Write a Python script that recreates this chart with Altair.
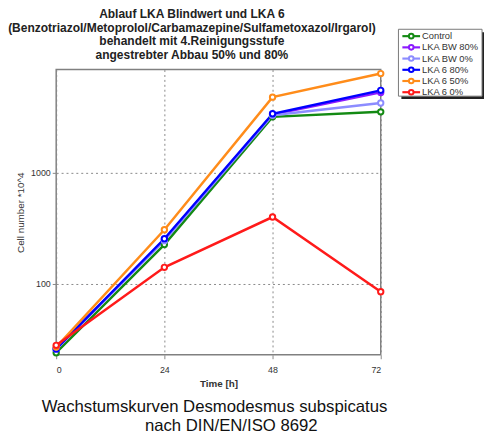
import altair as alt
import pandas as pd

# ---- data ----
times = [0, 24, 48, 72]
series = ["Control", "LKA BW 80%", "LKA BW 0%", "LKA 6 80%", "LKA 6 50%", "LKA 6 0%"]
control = [24, 226, 3190, 3540]
bw80 = [26, 250, 3350, 5300]
bw0 = [26, 245, 3300, 4250]
lka6_80 = [26, 255, 3400, 5530]
lka6_50 = [27, 307, 4800, 7830]
lka6_0 = [28, 141, 400, 85]
colors = ["#138a13", "#8c1aff", "#8c8cff", "#0000ff", "#ff8c1a", "#ff1a1a"]
widths = [2.5, 2.5, 2.5, 3.5, 2.5, 2.5]

title_lines = [
    "Ablauf LKA Blindwert und LKA 6",
    "(Benzotriazol/Metoprolol/Carbamazepine/Sulfametoxazol/Irgarol)",
    "behandelt mit 4.Reinigungsstufe",
    "angestrebter Abbau 50% und 80%",
]
caption_lines = ["Wachstumskurven Desmodesmus subspicatus", "nach DIN/EN/ISO  8692"]

FONT = "Liberation Sans"

rows = []
for name, vals in zip(series, [control, bw80, bw0, lka6_80, lka6_50, lka6_0]):
    for t, v in zip(times, vals):
        rows.append({"series": name, "time": t, "cells": v})
df = pd.DataFrame(rows)
leg_df = pd.DataFrame({"series": series})

color = alt.Color("series:N", scale=alt.Scale(domain=series, range=colors), legend=None)

x = alt.X("time:Q", scale=alt.Scale(domain=[0, 72], nice=False),
          axis=alt.Axis(values=times, title="Time [h]", format="d", grid=True,
                        gridDash=[2, 3], gridColor="#888", domain=False,
                        tickColor="#888", tickSize=4, labelFontSize=9, labelColor="#333",
                        labelFont=FONT, titleFont=FONT, titleFontSize=10, titleFontWeight="bold",
                        titleColor="#333", titlePadding=4, labelPadding=7))
y = alt.Y("cells:Q", scale=alt.Scale(type="log", domain=[23, 8500], nice=False),
          axis=alt.Axis(values=[100, 1000], title="Cell number *10^4", format="d", grid=True,
                        gridDash=[2, 3], gridColor="#888", domain=False,
                        tickColor="#888", tickSize=4, labelFontSize=9, labelColor="#333",
                        labelFont=FONT, titleFont=FONT, titleFontSize=10, titleFontWeight="normal",
                        titleColor="#333", titlePadding=5, labelPadding=2))

lines = alt.Chart(df).mark_line().encode(
    x=x, y=y, color=color,
    strokeWidth=alt.StrokeWidth("series:N", scale=alt.Scale(domain=series, range=widths), legend=None),
    order="time:Q")
pts = alt.Chart(df).mark_point(shape="circle", filled=False, fill="white", fillOpacity=1,
                               size=30, strokeWidth=2, opacity=1).encode(
    x=x, y=y, color=color)
main = alt.layer(lines, pts)

# ---- legend (drawn as marks) ----
ly = alt.Y("series:N", scale=alt.Scale(type="point", domain=series, range=[-34, 23], padding=0),
           axis=None)
one = pd.DataFrame({"a": [0]})
shadow = alt.Chart(one).mark_rect(color="#222").encode(
    x=alt.value(351), x2=alt.value(436), y=alt.value(-38), y2=alt.value(30))
box = alt.Chart(one).mark_rect(fill="white", stroke="#777", strokeWidth=1).encode(
    x=alt.value(348), x2=alt.value(433), y=alt.value(-41), y2=alt.value(27))
leg_line = alt.Chart(leg_df).mark_rule(strokeWidth=2.2).encode(
    x=alt.value(352), x2=alt.value(370), y=ly, color=color)
leg_pt = alt.Chart(leg_df).mark_point(shape="circle", filled=False, fill="white", fillOpacity=1,
                                      size=22, strokeWidth=2, opacity=1).encode(
    x=alt.value(361), y=ly, color=color)
leg_txt = alt.Chart(leg_df).mark_text(font=FONT, fontSize=9.5, color="#333", align="left",
                                      baseline="middle").encode(
    x=alt.value(372), y=ly, text="series:N")
legend = alt.layer(shadow, box, leg_line, leg_pt, leg_txt)

titles = alt.Chart(one).mark_text(
    font=FONT, fontSize=12.2, fontWeight="bold", color="#222",
    align="center", baseline="middle", lineHeight=13.7, text=title_lines).encode(
    x=alt.value(138), y=alt.value(-56))

cap1 = alt.Chart(one).mark_text(
    font=FONT, fontSize=17, color="#111",
    align="center", baseline="middle", text=caption_lines[0]).encode(
    x=alt.value(161), y=alt.value(343))
cap2 = alt.Chart(one).mark_text(
    font=FONT, fontSize=17, color="#111",
    align="center", baseline="middle", text=caption_lines[1]).encode(
    x=alt.value(178), y=alt.value(362))

chart = alt.layer(main, legend, titles, cap1, cap2).resolve_scale(y="independent").properties(
    width=330, height=290,
    autosize=alt.AutoSizeParams(type="none"),
    padding={"left": 49, "top": 59, "right": 105, "bottom": 83},
).configure_view(stroke="#808080", strokeWidth=1.5)

chart.save("out.html", embed_options={"renderer": "svg", "actions": False})
